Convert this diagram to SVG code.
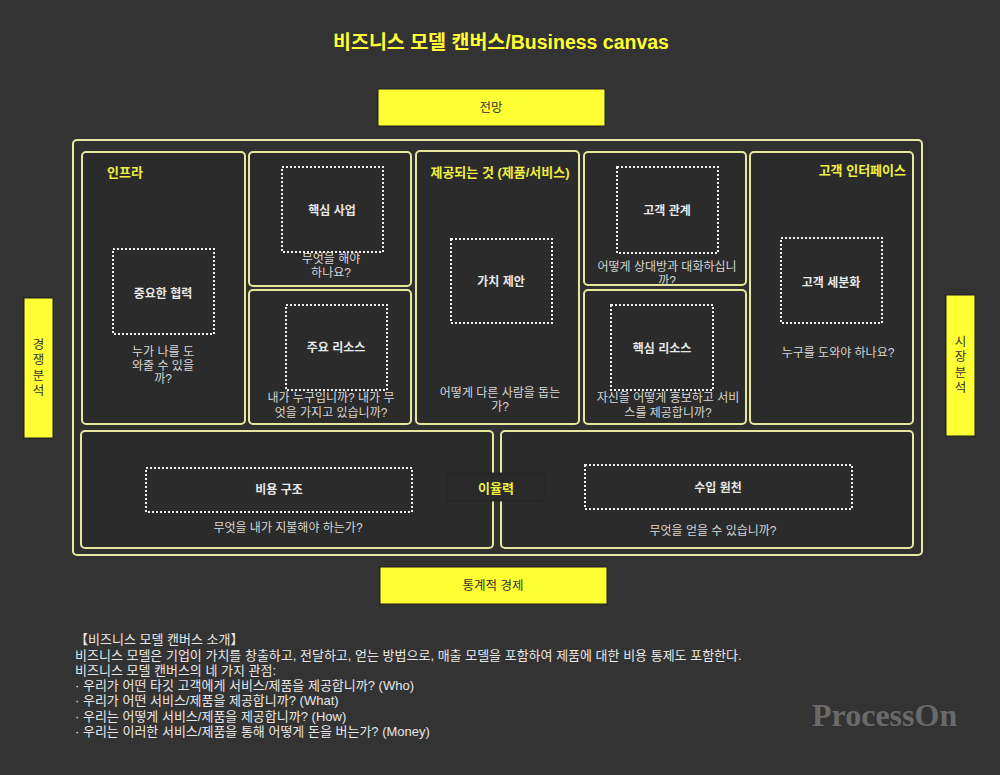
<svg xmlns="http://www.w3.org/2000/svg" width="1000" height="775" viewBox="0 0 1000 775">
<style>
text{font-family:"Liberation Sans","Noto Sans CJK KR",sans-serif;dominant-baseline:central;text-anchor:middle}
.cell{fill:#2b2b2b;stroke:#e6e69c;stroke-width:2}
.dot{fill:none;stroke:#f2f2f2;stroke-width:2;stroke-dasharray:2 2}
.lbl{fill:#e8e8e8;font-size:12px;font-weight:bold}
.q{fill:#d6d6d6;font-size:12px}
.sec{fill:#f0f040;font-size:13px;font-weight:bold}
.ybox{fill:#ffff33;stroke:#1e1e1e;stroke-width:1}
.yt{fill:#333;font-size:12.5px}
.desc{fill:#e8e8e8;font-size:13px;text-anchor:start}
</style>
<rect width="1000" height="775" fill="#333333"/>
<text x="501" y="42" style="fill:#ffff33;font-size:19.5px;font-weight:bold">비즈니스 모델 캔버스/Business canvas</text>

<g id="vision"><rect class="ybox" x="378" y="89" width="227" height="37"/><text class="yt" x="491" y="108">전망</text></g>
<g id="economy"><rect class="ybox" x="380" y="567" width="227" height="37"/><text class="yt" x="493" y="586">통계적 경제</text></g>
<g id="competition"><rect class="ybox" x="24" y="298" width="29" height="140"/>
<text class="yt" x="38.5" y="345">경</text><text class="yt" x="38.5" y="360">쟁</text><text class="yt" x="38.5" y="376">분</text><text class="yt" x="38.5" y="391">석</text></g>
<g id="market"><rect class="ybox" x="946" y="295" width="29" height="141"/>
<text class="yt" x="960.5" y="342">시</text><text class="yt" x="960.5" y="357">장</text><text class="yt" x="960.5" y="373">분</text><text class="yt" x="960.5" y="388">석</text></g>

<g id="frame"><rect x="73" y="140" width="849" height="415" rx="4" fill="#303030" stroke="#e9e9a4" stroke-width="2"/></g>

<g id="infra">
<rect class="cell" x="82" y="152" width="163" height="272" rx="4"/>
<text class="sec" x="107" y="172" style="text-anchor:start">인프라</text>
<rect class="dot" x="113" y="249" width="101" height="85"/>
<text class="lbl" x="163" y="294">중요한 협력</text>
<text class="q" x="163" y="352">누가 나를 도</text><text class="q" x="163" y="366">와줄 수 있을</text><text class="q" x="163" y="379">까?</text>
</g>
<g id="key-activities">
<rect class="cell" x="249" y="152" width="162" height="134" rx="4"/>
<rect class="dot" x="282" y="167" width="101" height="85"/>
<text class="lbl" x="332" y="211">핵심 사업</text>
<text class="q" x="331" y="259">무엇을 해야</text><text class="q" x="331" y="273">하나요?</text>
</g>
<g id="key-resources">
<rect class="cell" x="249" y="290" width="162" height="134" rx="4"/>
<rect class="dot" x="286" y="305" width="101" height="85"/>
<text class="lbl" x="336" y="348">주요 리소스</text>
<text class="q" x="331" y="398">내가 누구입니까? 내가 무</text><text class="q" x="331" y="413">엇을 가지고 있습니까?</text>
</g>
<g id="offer">
<rect class="cell" x="416" y="151" width="163" height="273" rx="4"/>
<text class="sec" x="500" y="172">제공되는 것 (제품/서비스)</text>
<rect class="dot" x="451" y="239" width="101" height="84"/>
<text class="lbl" x="501" y="282">가치 제안</text>
<text class="q" x="500" y="393">어떻게 다른 사람을 돕는</text><text class="q" x="500" y="407">가?</text>
</g>
<g id="customer-relations">
<rect class="cell" x="584" y="152" width="162" height="133" rx="4"/>
<rect class="dot" x="617" y="167" width="101" height="86"/>
<text class="lbl" x="667" y="211">고객 관계</text>
<text class="q" x="667" y="267">어떻게 상대방과 대화하십니</text><text class="q" x="667" y="281">까?</text>
</g>
<g id="channels">
<rect class="cell" x="584" y="290" width="162" height="134" rx="4"/>
<rect class="dot" x="611" y="305" width="102" height="85"/>
<text class="lbl" x="662" y="349">핵심 리소스</text>
<text class="q" x="668" y="398">자신을 어떻게 홍보하고 서비</text><text class="q" x="668" y="413">스를 제공합니까?</text>
</g>
<g id="customer-interface">
<rect class="cell" x="750" y="152" width="163" height="272" rx="4"/>
<text class="sec" x="906" y="170" style="text-anchor:end">고객 인터페이스</text>
<rect class="dot" x="781" y="238" width="101" height="85"/>
<text class="lbl" x="831" y="283">고객 세분화</text>
<text class="q" x="838" y="353">누구를 도와야 하나요?</text>
</g>
<g id="cost">
<rect class="cell" x="81" y="431" width="412" height="117" rx="4"/>
<rect class="dot" x="146" y="468" width="266" height="44"/>
<text class="lbl" x="279" y="490">비용 구조</text>
<text class="q" x="288" y="528">무엇을 내가 지불해야 하는가?</text>
</g>
<g id="revenue">
<rect class="cell" x="501" y="431" width="412" height="117" rx="4"/>
<rect class="dot" x="585" y="465" width="267" height="44"/>
<text class="lbl" x="718" y="488">수입 원천</text>
<text class="q" x="713" y="531">무엇을 얻을 수 있습니까?</text>
</g>
<g id="profit">
<rect x="447" y="473" width="97" height="28" fill="#2a2a2a" stroke="#262626" stroke-width="1"/>
<text class="sec" x="496" y="488">이율력</text>
</g>
<g id="connectors"></g>

<g id="description">
<text class="desc" x="75" y="639">【비즈니스 모델 캔버스 소개】</text>
<text class="desc" x="75" y="655">비즈니스 모델은 기업이 가치를 창출하고, 전달하고, 얻는 방법으로, 매출 모델을 포함하여 제품에 대한 비용 통제도 포함한다.</text>
<text class="desc" x="75" y="670">비즈니스 모델 캔버스의 네 가지 관점:</text>
<text class="desc" x="75" y="685">· 우리가 어떤 타깃 고객에게 서비스/제품을 제공합니까? (Who)</text>
<text class="desc" x="75" y="700">· 우리가 어떤 서비스/제품을 제공합니까? (What)</text>
<text class="desc" x="75" y="716">· 우리는 어떻게 서비스/제품을 제공합니까? (How)</text>
<text class="desc" x="75" y="731">· 우리는 이러한 서비스/제품을 통해 어떻게 돈을 버는가? (Money)</text>
</g>
<text x="812" y="726" style="font-family:'Liberation Serif',serif;font-weight:bold;font-size:32px;fill:#6a6a6a;text-anchor:start;dominant-baseline:alphabetic">ProcessOn</text>
</svg>
